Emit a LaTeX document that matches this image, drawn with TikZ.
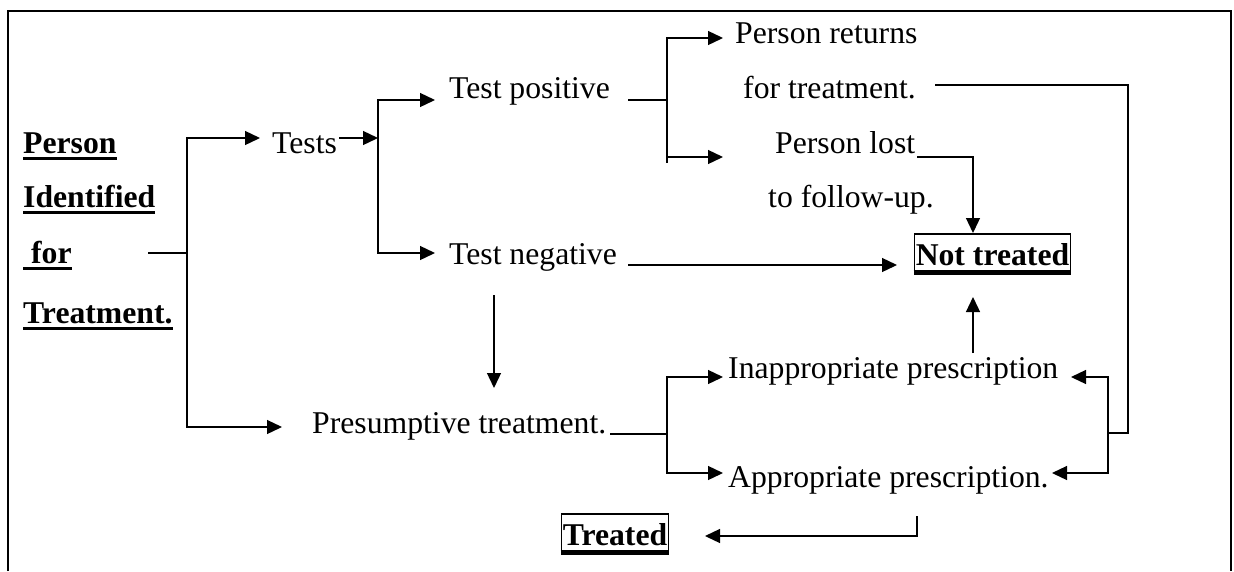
\documentclass[tikz,border=0pt]{standalone}
\usepackage{fontspec}
\setmainfont{Liberation Serif}
\usetikzlibrary{arrows.meta}
\begin{document}
\begin{tikzpicture}[x=1pt,y=-1pt,
  every node/.style={inner sep=0pt, anchor=base west, font=\fontsize{31.7pt}{38pt}\selectfont},
  title/.style={font=\fontsize{31.7pt}{38pt}\selectfont\bfseries},
  boxed/.style={title, draw, line width=1.5pt, inner xsep=1.5pt, inner ysep=2pt, text height=29pt, text depth=5pt},
  conn/.style={line width=1.3pt},
  arr/.style={conn, -{Triangle[length=15pt,width=14pt]}},
  uline/.style={line width=3pt},
  frame/.style={line width=2pt}]
\useasboundingbox (0,0) rectangle (1234,571);

% open frame around the chart
\draw[frame] (8,571) -- (8,11) -- (1231,11) -- (1231,571);

% starting point
\node[title] (pers) at (23,153) {Person};
\node[title] (iden) at (23,207) {Identified};
\node[title] (forr) at (23,263) {\ for};
\node[title] (trtm) at (23,323) {Treatment.};
\foreach \n in {pers,iden,forr,trtm}
  \draw[uline] ([yshift=-5.5pt]\n.base west) -- ([yshift=-5.5pt]\n.base east);

% steps
\node (tests)  at (272,153) {Tests};
\node (tpos)   at (449,98)  {Test positive};
\node (tneg)   at (449,264) {Test negative};
\node (pret)   at (735,43)  {Person returns};
\node (fort)   at (743,98)  {for treatment.};
\node (plost)  at (775,153) {Person lost};
\node (follow) at (768,207) {to follow-up.};
\node (pres)   at (312,433) {Presumptive treatment.};
\node (inap)   at (728,378) {Inappropriate prescription};
\node (appr)   at (728,487) {Appropriate prescription.};

% outcomes
\node[boxed] (nott) at (913.5,265) {Not treated};
\node[boxed] (trd)  at (560.5,545) {Treated};
\draw[line width=4.5pt] ([yshift=0.5pt]nott.south west) -- ([yshift=0.5pt]nott.south east);
\draw[line width=4.5pt] ([yshift=0.5pt]trd.south west) -- ([yshift=0.5pt]trd.south east);

% junction points
\coordinate (a0) at (148,253);
\coordinate (a1) at (187,253);
\coordinate (toTests) at (260,138);
\coordinate (toPres) at (282,427);
\coordinate (t0) at (339,138);
\coordinate (t1) at (378,138);
\coordinate (toTpos) at (435,100);
\coordinate (toTneg) at (435,253);
\coordinate (p0) at (628,100);
\coordinate (p1) at (667,100);
\coordinate (toPret) at (723,38);
\coordinate (toPlost) at (723,157);
\coordinate (r0) at (935,85);
\coordinate (r1) at (1128,85);
\coordinate (r2) at (1128,433);
\coordinate (r3) at (1108,433);
\coordinate (toInapR) at (1071,377);
\coordinate (toApprR) at (1052,473);
\coordinate (l0) at (917,157);
\coordinate (toNott) at (973,233);
\coordinate (n0) at (628,265);
\coordinate (n1) at (897,265);
\coordinate (d0) at (494,295);
\coordinate (d1) at (494,388);
\coordinate (q0) at (610,434);
\coordinate (q1) at (667,434);
\coordinate (toInap) at (723,377);
\coordinate (toAppr) at (723,473);
\coordinate (u0) at (973,353);
\coordinate (u1) at (973,297);
\coordinate (w0) at (917,516);
\coordinate (toTrd) at (705,536);

% connectors
\draw[conn] (a0) -- (a1);
\draw[arr] (a1) |- (toTests);
\draw[arr] (a1) |- (toPres);
\draw[arr] (t0) -- (t1);
\draw[arr] (t1) |- (toTpos);
\draw[arr] (t1) |- (toTneg);
\draw[conn] (p0) -- (p1);
\draw[arr] (p1) |- (toPret);
\draw[arr] (p1) |- (toPlost);
\draw[conn] (p1) -- (667,163);
\draw[conn] (r0) -- (r1) -- (r2) -- (r3);
\draw[arr] (r3) |- (toInapR);
\draw[arr] (r3) |- (toApprR);
\draw[arr] (l0) -| (toNott);
\draw[arr] (n0) -- (n1);
\draw[arr] (d0) -- (d1);
\draw[conn] (q0) -- (q1);
\draw[arr] (q1) |- (toInap);
\draw[arr] (q1) |- (toAppr);
\draw[arr] (u0) -- (u1);
\draw[arr] (w0) |- (toTrd);
\end{tikzpicture}
\end{document}
